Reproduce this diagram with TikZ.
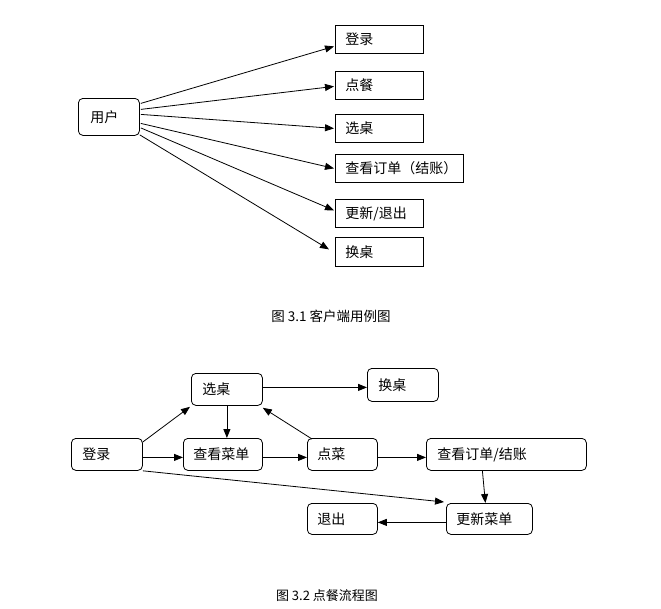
\documentclass[tikz,border=0pt]{standalone}
\usepackage{fontspec}
\setmainfont{Noto Sans CJK SC}
\usetikzlibrary{arrows.meta,calc}
\begin{document}
\begin{tikzpicture}[x=1pt,y=-1pt,
  box/.style={draw, line width=0.8pt, anchor=north west, inner ysep=0pt,
    inner xsep=10pt, align=left, font=\fontsize{14}{16}\selectfont},
  rbox/.style={box, rounded corners=4.5pt},
  arr/.style={line width=0.8pt, -{Triangle[length=9pt,width=7pt]}},
  captext/.style={font=\fontsize{13}{15}\selectfont}]
\useasboundingbox[fill=white] (0,0) rectangle (661,608);
% ---------- top diagram ----------
\node[rbox, inner xsep=12pt, text width=37pt, minimum height=37pt] (user) at (78,98) {用户};
\node[box, text width=68pt, minimum height=28pt] (t1) at (335,25) {登录};
\node[box, text width=68pt, minimum height=28pt] (t2) at (335,71) {点餐};
\node[box, text width=68pt, minimum height=28pt] (t3) at (335,114) {选桌};
\node[box, text width=108pt, minimum height=28pt] (t4) at (335,154) {查看订单（结账）};
\node[box, text width=68pt, minimum height=28pt] (t5) at (335,199) {更新/退出};
\node[box, text width=68pt, minimum height=29pt] (t6) at (335,237) {换桌};
\draw[arr] ($(user.east)+(1,-13.5)$) -- ($(t1.west)+(-1,7)$);
\draw[arr] ($(user.east)+(1,-7.5)$) -- ($(t2.west)+(-1,1)$);
\draw[arr] ($(user.east)+(1,-2.5)$) -- ($(t3.west)+(-1,0)$);
\draw[arr] ($(user.east)+(1,6.5)$) -- ($(t4.west)+(-1,0)$);
\draw[arr] ($(user.east)+(1,11)$) -- ($(t5.west)+(-1,-3)$);
\draw[arr] ($(user.east)+(0,18)$) -- ($(t6.west)+(-6,-2.5)$);
\node[captext, font=\fontsize{13.5}{15}\selectfont] (cap1) at (331,316) {图 3.1 客户端用例图};
% ---------- bottom diagram ----------
\node[rbox, inner xsep=11pt, text width=49pt, minimum height=32pt] (bsel) at (191,373) {选桌};
\node[rbox, inner xsep=11pt, text width=49pt, minimum height=33pt] (bchg) at (367,368) {换桌};
\node[rbox, inner xsep=11pt, text width=49pt, minimum height=32pt] (blog) at (71,438) {登录};
\node[rbox, text width=59pt, minimum height=32pt] (bmenu) at (183,438) {查看菜单};
\node[rbox, text width=50pt, minimum height=32pt] (bdish) at (307,438) {点菜};
\node[rbox, inner xsep=11pt, text width=138pt, minimum height=32pt] (bbill) at (426,438) {查看订单/结账};
\node[rbox, text width=50pt, minimum height=31pt] (bexit) at (307,503) {退出};
\node[rbox, text width=66pt, minimum height=31pt] (bupd) at (446,503) {更新菜单};
\draw[arr] ($(blog.north east)+(0,4)$) -- ($(bsel.south west)+(-1,1)$);
\draw[arr] ($(blog.east)+(0,3)$) -- ($(bmenu.west)+(0,3)$);
\draw[arr] (bsel.south) -- (bsel.south |- bmenu.north);
\draw[arr] ($(bmenu.east)+(0,3)$) -- ($(bdish.west)+(0,3)$);
\draw[arr] ($(bdish.north west)+(5,1)$) -- ($(bsel.south east)+(0,2)$);
\draw[arr] ($(bsel.east)+(0,-2)$) -- ($(bchg.west)+(0,2.5)$);
\draw[arr] ($(bdish.east)+(0,3)$) -- ($(bbill.west)+(0,3)$);
\draw[arr] ($(bbill.south)+(-24,0)$) -- ($(bupd.north)+(-4,0)$);
\draw[arr] (blog.south east) -- ($(bupd.north west)+(-2,-1)$);
\draw[arr] ($(bupd.west)+(0,3.5)$) -- ($(bexit.east)+(0,3.5)$);
\node[captext] (cap2) at (327,596) {图 3.2 点餐流程图};
\end{tikzpicture}
\end{document}
